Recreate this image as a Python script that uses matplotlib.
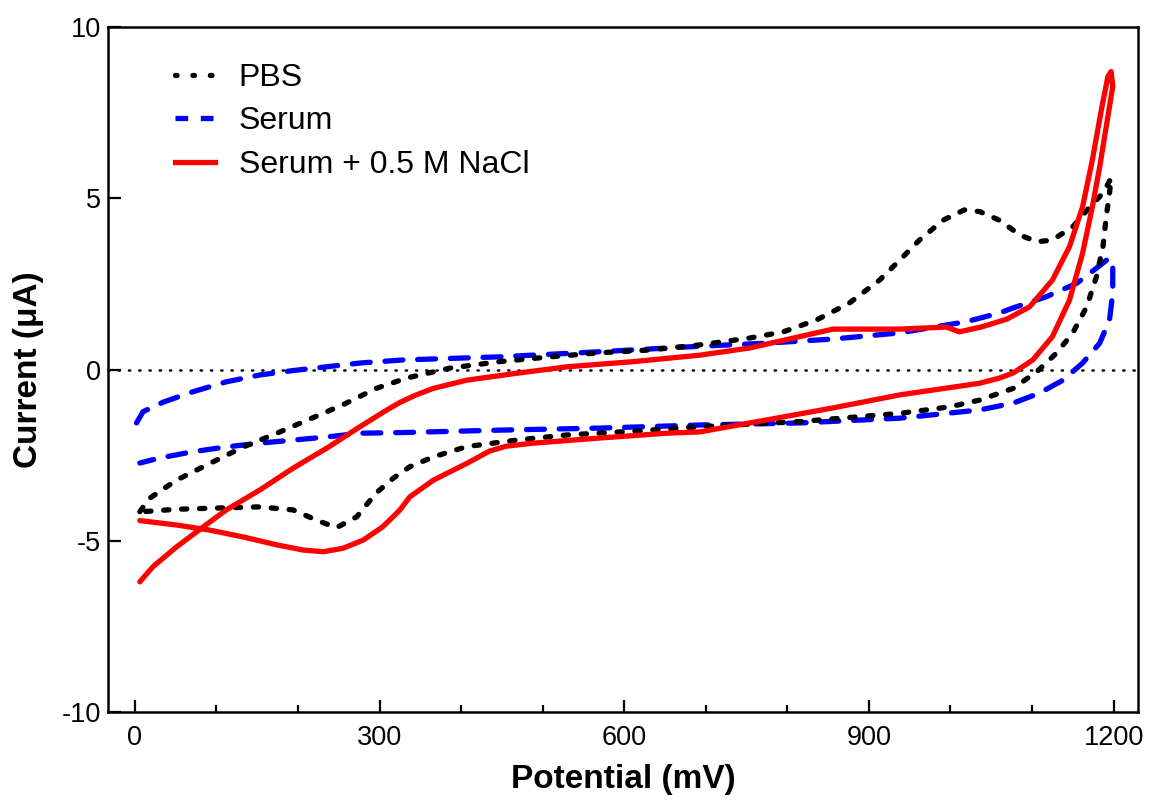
import matplotlib
matplotlib.use("Agg")
import matplotlib.pyplot as plt
from matplotlib.lines import Line2D
from matplotlib.ticker import MultipleLocator

plt.rcParams['font.family'] = ['Liberation Sans', 'DejaVu Sans']
plt.rcParams['axes.unicode_minus'] = False

# PBS loop: forward (upper) branch then reverse (lower) branch
pbs_x = [6, 18, 51, 92, 133, 174, 215, 255, 296, 333, 386, 447, 509, 570, 631, 693,
         754, 795, 836, 876, 913, 938, 962, 991, 1017, 1036, 1060, 1085, 1106, 1125,
         1150, 1171, 1187, 1197,
         1195, 1191, 1187, 1179, 1167, 1150, 1130, 1106, 1077, 1036, 999, 938, 815,
         693, 611, 530, 468, 407, 366, 337, 317, 296, 272, 247, 223, 194, 153, 92, 51, 10]
pbs_y = [-4.15, -3.76, -3.23, -2.74, -2.26, -1.86, -1.44, -1.03, -0.55, -0.25, 0.04,
         0.23, 0.37, 0.49, 0.57, 0.72, 0.92, 1.10, 1.45, 1.94, 2.61, 3.20, 3.78, 4.36,
         4.66, 4.61, 4.36, 3.93, 3.73, 3.78, 4.17, 4.75, 5.15, 5.59,
         5.15, 4.46, 3.59, 2.71, 1.83, 1.07, 0.48, -0.06, -0.55, -0.89, -1.09, -1.28,
         -1.52, -1.67, -1.80, -1.91, -2.06, -2.25, -2.55, -2.84, -3.17, -3.60, -4.30,
         -4.62, -4.40, -4.10, -4.01, -4.05, -4.08, -4.15]

serum_x = [2, 10, 35, 71, 112, 153, 194, 235, 276, 329, 447, 570, 693, 775, 856, 938,
           1020, 1060, 1077, 1118, 1155, 1179, 1195,
           1199, 1199, 1195, 1183, 1162, 1138, 1109, 1077, 1036, 938, 815, 693, 570,
           447, 329, 276, 235, 194, 153, 112, 71, 31, 6]
serum_y = [-1.56, -1.23, -0.95, -0.65, -0.36, -0.16, -0.03, 0.08, 0.19, 0.28, 0.37,
           0.52, 0.68, 0.77, 0.89, 1.07, 1.40, 1.65, 1.80, 2.13, 2.52, 2.96, 3.26,
           3.00, 2.23, 1.45, 0.77, 0.19, -0.31, -0.69, -0.98, -1.18, -1.42, -1.56,
           -1.62, -1.71, -1.77, -1.84, -1.86, -1.97, -2.06, -2.15, -2.26, -2.40,
           -2.58, -2.73]

nacl_x = [6, 22, 51, 84, 112, 153, 194, 235, 276, 309, 325, 345, 366, 407, 468, 530,
          611, 693, 754, 815, 856, 897, 938, 995, 1011, 1039, 1069, 1097, 1125, 1146,
          1162, 1174, 1185, 1193, 1197,
          1199, 1191, 1183, 1174, 1162, 1146, 1125, 1101, 1077, 1060, 1036, 938, 856,
          775, 693, 652, 570, 488, 455, 435, 407, 366, 337, 325, 304, 280, 255, 231,
          206, 174, 133, 92, 51, 6]
nacl_y = [-6.20, -5.76, -5.18, -4.59, -4.10, -3.52, -2.88, -2.30, -1.67, -1.18, -0.96,
          -0.74, -0.55, -0.31, -0.11, 0.08, 0.23, 0.42, 0.63, 0.96, 1.18, 1.18, 1.18,
          1.24, 1.10, 1.25, 1.47, 1.83, 2.61, 3.59, 4.75, 6.12, 7.58, 8.55, 8.70,
          8.26, 7.09, 5.92, 4.75, 3.40, 2.03, 0.96, 0.28, -0.10, -0.25, -0.40, -0.74,
          -1.12, -1.47, -1.82, -1.86, -2.00, -2.15, -2.24, -2.38, -2.74, -3.23, -3.72,
          -4.10, -4.59, -4.98, -5.22, -5.32, -5.27, -5.12, -4.89, -4.69, -4.54, -4.41]

labels = ["PBS", "Serum", "Serum + 0.5 M NaCl"]
colors = ["black", "#0000ff", "#ff0000"]

fig = plt.figure(figsize=(11.5, 8.02), dpi=100)
ax = fig.add_axes([0.0939, 0.1122, 0.8957, 0.8541])

ax.axhline(0, color='black', lw=1.8, ls=(0, (0.5, 3.6)), dash_capstyle='round', zorder=1)

LW = 3.8
ax.plot(pbs_x, pbs_y, color=colors[0], lw=LW, ls=(0, (1.0, 2.4)),
        dash_capstyle='round', zorder=3)
ax.plot(serum_x, serum_y, color=colors[1], lw=LW, ls=(0, (3.4, 2.8)),
        dash_capstyle='round', zorder=2)
ax.plot(nacl_x, nacl_y, color=colors[2], lw=LW, solid_capstyle='round',
        solid_joinstyle='round', zorder=4)

ax.set_xlim(-33, 1230)
ax.set_ylim(-10, 10)
ax.xaxis.set_major_locator(MultipleLocator(300))
ax.xaxis.set_minor_locator(MultipleLocator(100))
ax.yaxis.set_major_locator(MultipleLocator(5))
ax.tick_params(which='major', direction='in', length=9, width=1.6, labelsize=19.5)
ax.tick_params(axis='x', which='major', pad=9)
ax.tick_params(axis='y', which='major', pad=5)
ax.tick_params(which='minor', direction='in', length=5, width=1.6)
for s in ax.spines.values():
    s.set_linewidth(1.8)

ax.set_xlabel("Potential (mV)", fontsize=24, fontweight='bold', labelpad=10)
ax.set_ylabel("Current (μA)", fontsize=24, fontweight='bold', labelpad=13)

handles = [
    Line2D([], [], color=colors[0], lw=LW, ls=(0, (0.3, 3.0)), dash_capstyle='round'),
    Line2D([], [], color=colors[1], lw=LW, ls=(0, (2.4, 2.4)), dash_capstyle='butt'),
    Line2D([], [], color=colors[2], lw=LW),
]
ax.legend(handles, labels, loc='upper left', bbox_to_anchor=(0.04, 0.985),
          frameon=False, fontsize=23, handlelength=1.25, handletextpad=0.75,
          labelspacing=0.42, borderpad=0.3)

fig.savefig("out.png", dpi=100)
